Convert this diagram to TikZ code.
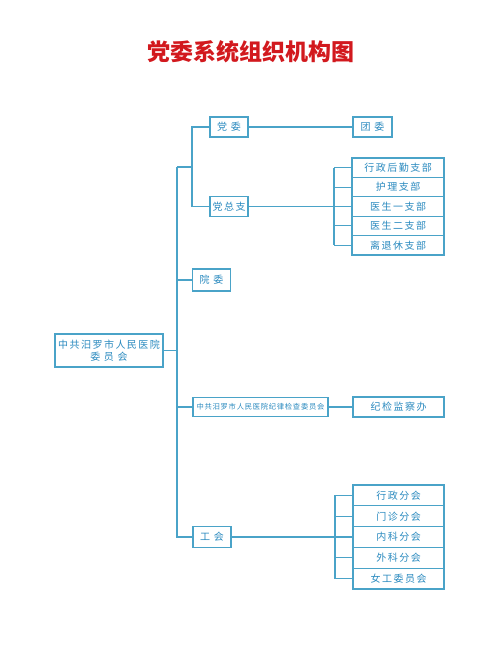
\documentclass[tikz,border=0pt]{standalone}
\usepackage{fontspec}
\setmainfont{Noto Sans CJK SC}
\newfontfamily\boxfont[LetterSpace=15]{Noto Sans CJK SC}
\newfontfamily\tightfont[LetterSpace=10]{Noto Sans CJK SC}
\usepackage{tikz}
\usetikzlibrary{positioning}
\definecolor{linec}{HTML}{4AA3C8}
\definecolor{textc}{HTML}{2A8ABF}
\definecolor{titlec}{HTML}{D2191E}
\tikzset{
  org/.style={draw=linec, line width=1.1pt, fill=white, text=textc, inner sep=0pt, outer sep=0pt,
              align=center, font=\boxfont\fontsize{10}{11.5}\selectfont},
  small/.style={org, minimum width=38pt, minimum height=20pt},
  wide/.style={org, minimum width=92pt, minimum height=19.4pt},
  uwide/.style={org, minimum width=91pt, minimum height=20.8pt},
  ln/.style={draw=linec, line width=1.1pt},
}

\begin{document}
\begin{tikzpicture}[x=1pt, y=-1pt]
  \useasboundingbox (0,0) rectangle (500,651);
  % title
  \node[font=\fontsize{23}{26}\selectfont\bfseries, text=titlec] (title) at (251,52) {党委系统组织机构图};
  % first level
  \node[org, minimum width=108pt, minimum height=33pt] (main) at (109,350.5) {中共汨罗市人民医院\\委 员 会};
  \node[small] (dw) at (229,127) {党 委};
  \node[small] (dzz) at (229,206.5) {党总支};
  \node[small, minimum height=22pt] (yw) at (211.5,280) {院 委};
  \node[org, minimum width=135pt, minimum height=19pt, font=\tightfont\fontsize{7.3}{9}\selectfont] (jw) at (260.5,407) {中共汨罗市人民医院纪律检查委员会};
  \node[small, minimum height=21pt] (gh) at (212,537) {工 会};
  % second level
  \node[small, minimum width=39pt] (tw) at (372.5,127) {团 委};
  \node[org, minimum width=91pt, minimum height=20pt] (jjc) at (398.5,407) {纪检监察办};
  \node[wide] (p0) at (398,167.7) {行政后勤支部};
  \node[wide, below=0pt of p0] (p1) {护理支部};
  \node[wide, below=0pt of p1] (p2) {医生一支部};
  \node[wide, below=0pt of p2] (p3) {医生二支部};
  \node[wide, below=0pt of p3] (p4) {离退休支部};
  \node[uwide] (u0) at (398.5,495.4) {行政分会};
  \node[uwide, below=0pt of u0] (u1) {门诊分会};
  \node[uwide, below=0pt of u1] (u2) {内科分会};
  \node[uwide, below=0pt of u2] (u3) {外科分会};
  \node[uwide, below=0pt of u3] (u4) {女工委员会};
  % trunk
  \coordinate (trk) at (177,167);
  \coordinate (dj) at (192,167);
  \draw[ln] (main.east) -- (main.east -| trk);
  \draw[ln] (trk) -- (trk |- gh.west) -- (gh.west);
  \draw[ln] (trk) -- (dj);
  \draw[ln] (dw.west) -| (dj) |- (dzz.west);
  \draw[ln] (yw.west -| trk) -- (yw.west);
  \draw[ln] (jw.west -| trk) -- (jw.west);
  % branches
  \draw[ln] (dw.east) -- (tw.west);
  \draw[ln] (jw.east) -- (jjc.west);
  \draw[ln] (dzz.east) -- (dzz.east -| p2.west);
  \draw[ln] (gh.east) -- (gh.east -| u2.west);
  \coordinate (pb) at (334,0);
  \coordinate (ub) at (335,0);
  \draw[ln] (pb |- p0.west) -- (pb |- p4.west);
  \draw[ln] (ub |- u0.west) -- (ub |- u4.west);
  \foreach \i in {0,1,3,4} {
    \draw[ln] (pb |- p\i.west) -- (p\i.west);
    \draw[ln] (ub |- u\i.west) -- (u\i.west);
  }
\end{tikzpicture}
\end{document}
